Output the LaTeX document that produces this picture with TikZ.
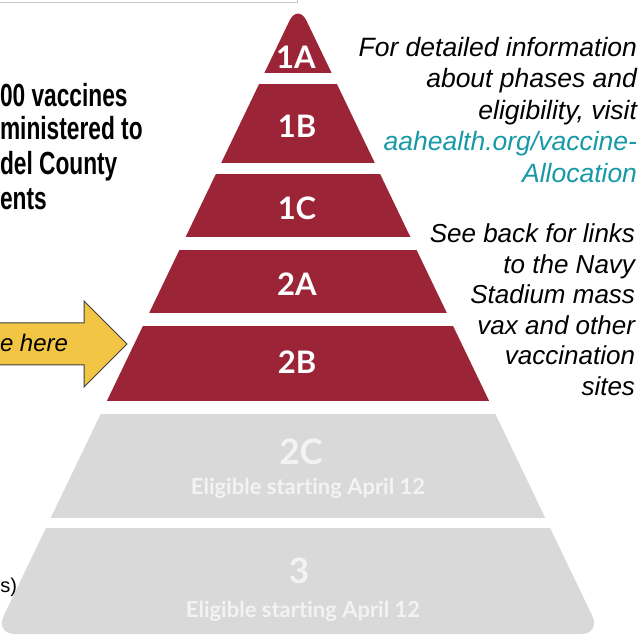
\documentclass[tikz,border=0pt]{standalone}
\usepackage{fontspec}
\setmainfont{Liberation Sans}
\newfontfamily\tierfont[Ligatures=NoCommon]{Lato}
\newfontfamily\headfont[FakeStretch=0.71]{Liberation Sans}
\definecolor{tierred}{RGB}{155,36,54}
\definecolor{tiergray}{RGB}{217,217,217}
\definecolor{tiertext}{RGB}{243,243,243}
\definecolor{linkteal}{RGB}{23,153,168}
\definecolor{arrowgold}{RGB}{242,197,68}
\definecolor{framegray}{RGB}{200,200,200}
\begin{document}
\begin{tikzpicture}[x=1pt, y=-1pt,
    every node/.style = {inner sep=0pt, outer sep=0pt},
    tierlabel/.style = {text=white, font=\tierfont\bfseries\fontsize{31}{31}\selectfont},
    graylabel/.style = {text=tiertext, font=\tierfont\bfseries\fontsize{35}{35}\selectfont},
    eligible/.style = {text=tiertext, anchor=base, font=\tierfont\bfseries\fontsize{22}{22}\selectfont},
    headline/.style = {anchor=base west, font=\headfont\bfseries\fontsize{32}{32}\selectfont},
    note/.style = {anchor=north east, align=right, font=\itshape\fontsize{26.5}{31.5}\selectfont},
  ]
  \useasboundingbox (0,0) rectangle (641,639);

  % frame edge at the top
  \draw[framegray, line width=0.8pt] (0,2.5) -- (297,2.5) -- (297,0);

  % pyramid tiers
  \foreach \ytop/\ybot/\col in {0/73/tierred, 85/163/tierred, 175/237/tierred,
      251/313/tierred, 327/401/tierred, 415/518/tiergray, 529/639/tiergray}{
    \begin{scope}
      \clip (-10,\ytop) rectangle (650,\ybot);
      \fill[\col, rounded corners=20pt] (298,3) -- (601,634) -- (-5,634) -- cycle;
    \end{scope}
  }

  \node[tierlabel] (t1A) at (296,57) {1A};
  \node[tierlabel] (t1B) at (297,126) {1B};
  \node[tierlabel] (t1C) at (297,208) {1C};
  \node[tierlabel] (t2A) at (297,284) {2A};
  \node[tierlabel] (t2B) at (297,362) {2B};
  \node[graylabel] (t2C) at (301,452) {2C};
  \node[eligible] (e2C) at (308,495) {Eligible starting April 12};
  \node[graylabel] (t3) at (299,571) {3};
  \node[eligible] (e3) at (303,617) {Eligible starting April 12};

  % headline cut at the left edge
  \node[headline] (h1) at (0,107) {00 vaccines};
  \node[headline] (h2) at (0,140) {ministered to};
  \node[headline] (h3) at (0,175) {del County};
  \node[headline] (h4) at (0,210) {ents};

  % arrow
  \draw[fill=arrowgold, draw=black!75, line width=1pt, line join=miter]
    (-5,323) -- (84,323) -- (84,301) -- (127,344) -- (84,387) -- (84,365) -- (-5,365) -- cycle;
  \node[anchor=base west, font=\itshape\fontsize{24}{24}\selectfont] (here) at (0,352) {e here};

  % side notes
  \node[note] (info) at (637,37) {For detailed information\\about phases and\\eligibility, visit\\
    \textcolor{linkteal}{aahealth.org/vaccine-}\\\textcolor{linkteal}{Allocation}};
  \node[note, font=\itshape\fontsize{26}{30.5}\selectfont] (links) at (635,224)
    {See back for links\\to the Navy\\Stadium mass\\vax and other\\vaccination\\sites};
  \node[anchor=base west, font=\fontsize{20}{20}\selectfont] (paren) at (0.5,592) {s)};
\end{tikzpicture}
\end{document}
